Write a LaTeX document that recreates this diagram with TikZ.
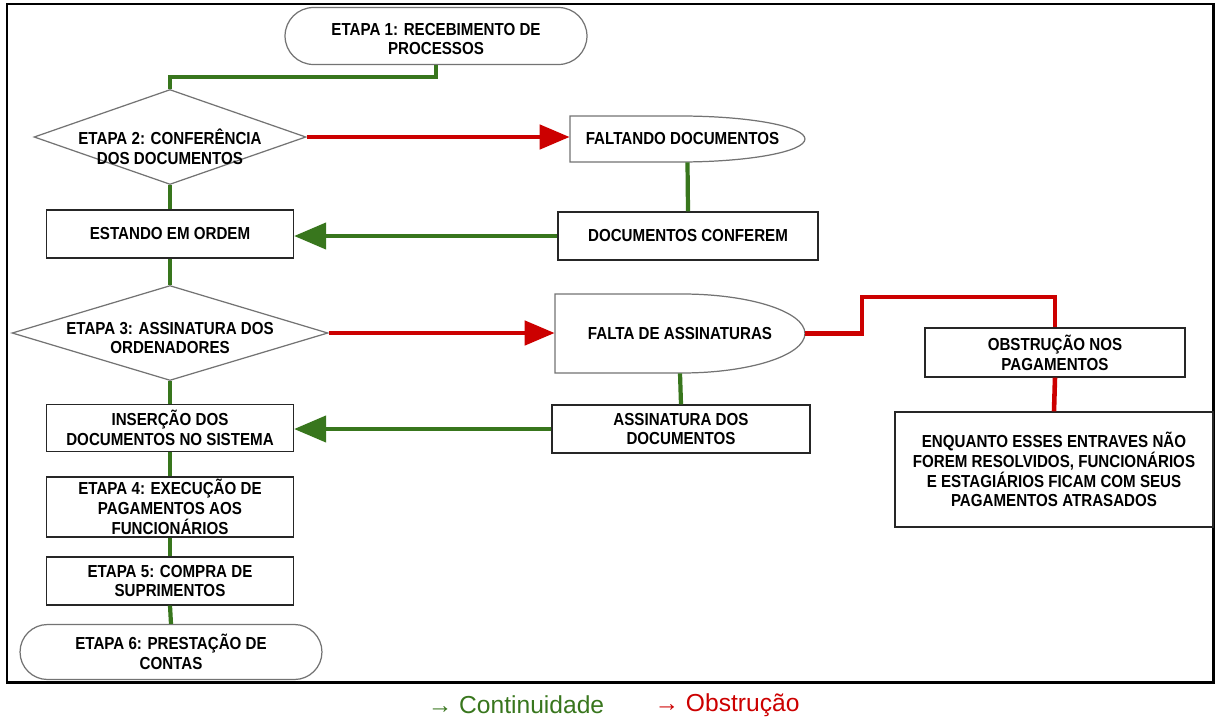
\documentclass[tikz,border=0pt]{standalone}
\usepackage{fontspec}
\setmainfont{Liberation Sans}
\newfontfamily\stepfont{Liberation Sans}[FakeStretch=0.87]
\usetikzlibrary{shapes.geometric,shapes.misc,arrows.meta,calc}

\definecolor{contgreen}{HTML}{38761D}
\definecolor{obstred}{HTML}{CC0000}

\tikzset{
  txt/.style={font=\stepfont\bfseries\fontsize{9.9}{11.3}\selectfont, align=center, inner sep=0pt},
  box/.style={txt, draw=black!85, line width=0.7pt, fill=white},
  terminal/.style={txt, rounded rectangle, rounded rectangle arc length=180, draw=black!55, line width=0.7pt, fill=white},
  decision/.style={diamond, draw=black!55, line width=0.7pt, fill=white, inner sep=0pt},
  outline/.style={draw=black!55, line width=0.7pt, fill=white},
  cont/.style={draw=contgreen, line width=2.4pt},
  obst/.style={draw=obstred, line width=2.6pt},
  contarrow/.style={cont, -{Triangle[length=0.64cm,width=0.52cm]}},
  obstarrow/.style={obst, -{Triangle[length=0.6cm,width=0.48cm]}},
}

\begin{document}
\begin{tikzpicture}[x=0.02cm, y=-0.02cm]
\useasboundingbox (0,0) rectangle (1217,717);

% Frame
\draw[line width=1.7pt] (7,4) rectangle (1213,682);

% Left column
\node[terminal, minimum width=6.04cm, minimum height=1.14cm] (e1) at (436,36) {};
\node[txt] (e1txt) at (436,39) {ETAPA 1: RECEBIMENTO DE\\PROCESSOS};
\node[decision, minimum width=5.44cm, minimum height=1.9cm] (e2) at (170,137) {};
\node[txt] (e2txt) at (170,147) {ETAPA 2: CONFERÊNCIA\\DOS DOCUMENTOS};
\node[box, minimum width=4.94cm, minimum height=0.96cm] (ordem) at (170,234) {ESTANDO EM ORDEM};
\node[decision, minimum width=6.32cm, minimum height=1.9cm] (e3) at (170,333) {};
\node[txt] (e3txt) at (170,338) {ETAPA 3: ASSINATURA DOS\\ORDENADORES};
\node[box, minimum width=4.94cm, minimum height=0.94cm] (insercao) at (170,428) {INSERÇÃO DOS\\DOCUMENTOS NO SISTEMA};
\node[box, minimum width=4.94cm, minimum height=1.2cm] (e4) at (170,507) {ETAPA 4: EXECUÇÃO DE\\PAGAMENTOS AOS\\FUNCIONÁRIOS};
\node[box, minimum width=4.94cm, minimum height=0.96cm] (e5) at (170,581) {ETAPA 5: COMPRA DE\\SUPRIMENTOS};
\node[terminal, minimum width=6.04cm, minimum height=1.1cm] (e6) at (171,652) {ETAPA 6: PRESTAÇÃO DE\\CONTAS};

% Middle column
\draw[outline] (570,116) -- ++(2.2cm,0) arc[start angle=90, end angle=-90, x radius=2.5cm, y radius=0.46cm] -- (570,162) -- cycle;
\node[txt, minimum width=4.7cm, minimum height=0.92cm] (falta) at (687.5,139) {\hspace*{-0.2cm}FALTANDO DOCUMENTOS};
\node[box, minimum width=5.2cm, minimum height=0.96cm] (confere) at (688,236) {DOCUMENTOS CONFEREM};
\draw[outline] (555,294) -- ++(2.54cm,0) arc[start angle=90, end angle=-90, x radius=2.46cm, y radius=0.79cm] -- (555,373) -- cycle;
\node[txt, minimum width=5cm, minimum height=1.58cm] (semass) at (680,333.5) {FALTA DE ASSINATURAS};
\node[box, minimum width=5.16cm, minimum height=0.96cm] (assina) at (681,429) {ASSINATURA DOS\\DOCUMENTOS};

% Right column
\node[box, minimum width=5.2cm, minimum height=0.98cm] (obstr) at (1055,352.5) {OBSTRUÇÃO NOS\\PAGAMENTOS};
\node[box, minimum width=6.36cm, minimum height=2.3cm] (enquanto) at (1054,469.5) {ENQUANTO ESSES ENTRAVES NÃO\\FOREM RESOLVIDOS, FUNCIONÁRIOS\\E ESTAGIÁRIOS FICAM COM SEUS\\PAGAMENTOS ATRASADOS};
\coordinate (bend) at (862,297);

% Continuity
\draw[cont] (e1.south) -- ++(0,12) -| (e2.north);
\draw[cont] (e2.south) -- (ordem.north);
\draw[cont] (ordem.south) -- (e3.north);
\draw[cont] (e3.south) -- (insercao.north);
\draw[cont] (insercao.south) -- (e4.north);
\draw[cont] (e4.south) -- (e5.north);
\draw[cont] (e5.south) -- (e6.north);
\draw[cont] (falta.south) -- (confere.north);
\draw[cont] (semass.south) -- (assina.north);
\draw[contarrow] (confere.west) -- (confere.west -| ordem.east);
\draw[contarrow] (assina.west) -- (assina.west -| insercao.east);

% Obstruction
\draw[obstarrow] (e2.east) -- (e2.east -| falta.west);
\draw[obstarrow] (e3.east) -- (e3.east -| semass.west);
\draw[obst] (semass.east) -| (bend) -| (obstr.north);
\draw[obst] (obstr.south) -- (enquanto.north);

% Legend
\node[text=contgreen, font=\fontsize{14}{16}\selectfont] (lcont) at (516,705) {→ Continuidade};
\node[text=obstred, font=\fontsize{14}{16}\selectfont] (lobst) at (727,705) {→ Obstrução};
\end{tikzpicture}
\end{document}
